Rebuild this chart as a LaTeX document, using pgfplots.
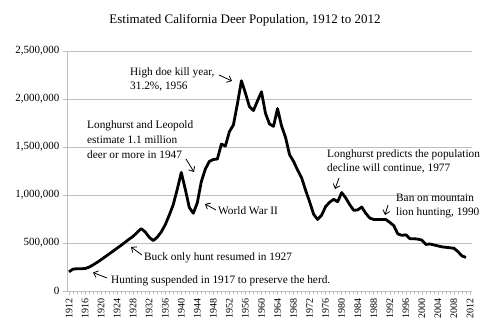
\documentclass[border=0pt]{standalone}
\usepackage{fontspec}
\setmainfont{Liberation Serif}
\usepackage{pgfplots}
\usepackage{pgfplotstable}
\pgfplotsset{compat=1.18}
\usetikzlibrary{arrows.meta}
\pgfplotstableread{
year pop
1912 200000
1913 228000
1914 232000
1915 232000
1916 234000
1917 248000
1918 272000
1919 298000
1920 326000
1921 356000
1922 386000
1923 416000
1924 446000
1925 476000
1926 508000
1927 540000
1928 570000
1929 610000
1930 650000
1931 615000
1932 560000
1933 525000
1934 560000
1935 615000
1936 690000
1937 790000
1938 900000
1939 1060000
1940 1235000
1941 1060000
1942 870000
1943 810000
1944 920000
1945 1140000
1946 1270000
1947 1350000
1948 1370000
1949 1375000
1950 1530000
1951 1510000
1952 1660000
1953 1730000
1954 1950000
1955 2190000
1956 2060000
1957 1920000
1958 1880000
1959 1980000
1960 2075000
1961 1850000
1962 1740000
1963 1715000
1964 1900000
1965 1720000
1966 1600000
1967 1420000
1968 1350000
1969 1260000
1970 1180000
1971 1050000
1972 930000
1973 800000
1974 745000
1975 790000
1976 880000
1977 925000
1978 955000
1979 930000
1980 1025000
1981 970000
1982 900000
1983 840000
1984 845000
1985 875000
1986 810000
1987 760000
1988 745000
1989 745000
1990 745000
1991 745000
1992 715000
1993 680000
1994 595000
1995 580000
1996 585000
1997 545000
1998 545000
1999 540000
2000 530000
2001 485000
2002 490000
2003 480000
2004 470000
2005 460000
2006 455000
2007 450000
2008 445000
2009 410000
2010 365000
2011 350000
}\deer
\definecolor{gridgray}{RGB}{190,190,190}
\begin{document}
\begin{tikzpicture}
\path[use as bounding box] (-67pt,-43pt) rectangle (433pt,291pt);
\begin{axis}[
  at={(0,0)}, anchor=south west,
  scale only axis, width=405pt, height=240pt,
  xmin=1911.5, xmax=2012.5, ymin=0, ymax=2500000,
  axis x line*=bottom, axis y line*=left,
  axis line style={gridgray, line width=0.8pt},
  ymajorgrids, grid style={gridgray, line width=0.8pt},
  xtick={1912,1916,...,2012},
  minor xtick={1912,1913,...,2012},
  ytick={0,500000,...,2500000},
  tick align=outside,
  major tick length=4pt, minor tick length=3pt,
  tick style={gridgray, line width=0.6pt},
  scaled y ticks=false,
  /pgf/number format/assume math mode=true,
  xticklabel style={rotate=90, anchor=east, font=\fontsize{10}{12}\selectfont, /pgf/number format/1000 sep={}},
  yticklabel style={font=\fontsize{11}{13}\selectfont, /pgf/number format/.cd, fixed, 1000 sep={,}},
]
\addplot[black, line width=2.8pt, line join=round] table[x=year, y=pop]{\deer};
\end{axis}
\begin{scope}[x=1pt, y=-1pt, shift={(-67pt,291pt)}]
  \node[font=\fontsize{13}{15}\selectfont] at (245,20) {Estimated California Deer Population, 1912 to 2012};
  \tikzset{ann/.style={anchor=base west, inner sep=0pt, font=\fontsize{11.3}{13}\selectfont},
           arr/.style={line width=0.8pt, -{Straight Barb[length=4pt, width=7pt]}}}
  \node[ann] at (130,76) {High doe kill year,};
  \node[ann] at (130,90) {31.2\%, 1956};
  \draw[arr] (219,75) -- (232,81);
  \node[ann] at (87,129) {Longhurst and Leopold};
  \node[ann] at (87,144) {estimate 1.1 million};
  \node[ann] at (87,159) {deer or more in 1947};
  \draw[arr] (186,159) -- (194,172);
  \node[ann] at (218,215) {World War II};
  \draw[arr] (216,210) -- (205,204);
  \node[ann] at (144,261) {Buck only hunt resumed in 1927};
  \draw[arr] (142,255) -- (131,247);
  \node[ann] at (111,284) {Hunting suspended in 1917 to preserve the herd.};
  \draw[arr] (107,278) -- (93,272.5);
  \node[ann] at (327,158) {Longhurst predicts the population};
  \node[ann] at (327,172) {decline will continue, 1977};
  \draw[arr] (339,178) -- (335,189);
  \node[ann] at (396,202) {Ban on mountain};
  \node[ann] at (396,216) {lion hunting, 1990};
  \draw[arr] (388,205) -- (385,215);
\end{scope}
\end{tikzpicture}
\end{document}
